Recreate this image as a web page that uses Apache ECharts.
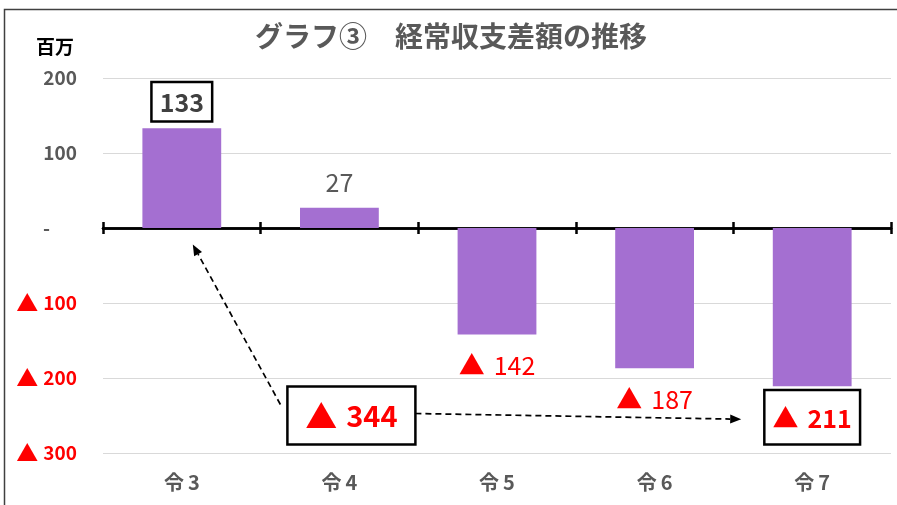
<!DOCTYPE html>
<html><head><meta charset="utf-8">
<script src="https://cdn.jsdelivr.net/npm/echarts@6/dist/echarts.min.js"></script>
<style>html,body{margin:0;padding:0;background:#fff}#c{width:897px;height:505px}</style>
</head><body><div id="c"></div>
<script>
const categories = ['令3', '令4', '令5', '令6', '令7'];
const values = [133, 27, -142, -187, -211];
const yMin = -300, yMax = 200, yStep = 100;
const unitLabel = '百万';
const titleText = 'グラフ③　経常収支差額の推移';
const changeValue = values[0] - values[values.length - 1]; // 344

const FF = "'Noto Sans CJK JP', sans-serif";
const GRAY = '#595959', RED = '#ff0000';
const chart = echarts.init(document.getElementById('c'));

function yFmt(v) {
  if (v === 0) return '{z|-}';
  if (v < 0) return '{nt|▲}{n|' + Math.abs(v) + '}';
  return '{p|' + v + '}';
}
function labelFor(i, v) {
  const boxed = (i === 0 || i === values.length - 1);
  const neg = v < 0;
  const txt = neg ? '{t|▲}{v|' + Math.abs(v) + '}' : '{v|' + v + '}';
  const col = neg ? RED : (boxed ? '#404040' : GRAY);
  const base = {
    show: true, formatter: txt, position: neg ? 'bottom' : 'top',
    rich: {
      t: { color: col, fontSize: 26, fontFamily: FF, padding: [0, 9, 0, 0] },
      v: { color: col, fontSize: 25, fontWeight: boxed ? 'bold' : 'normal', fontFamily: FF }
    }
  };
  if (boxed) {
    Object.assign(base, { distance: neg ? 5 : 8, borderColor: '#000', borderWidth: 2.5, backgroundColor: '#fff',
      padding: neg ? [14, 7, 12, 7] : [7, 7, 5, 7] });
  } else {
    base.distance = neg ? 18 : 13;
  }
  return base;
}

const tickAxis = (pos) => ({
  type: 'category', data: categories, position: pos,
  axisLine: { onZero: true, onZeroAxisIndex: 0, lineStyle: { color: '#000', width: 2.5 } },
  axisTick: { show: true, length: 6, lineStyle: { color: '#000', width: 2.5 } },
  axisLabel: { show: false }
});

const option = {
  animation: false,
  backgroundColor: '#fff',
  title: { text: titleText, left: 446, textAlign: 'center', top: 17,
    textStyle: { fontFamily: FF, fontSize: 28, fontWeight: 'bold', color: GRAY } },
  grid: { left: 103, right: 6, top: 78, bottom: 52, containLabel: false, outerBoundsMode: 'none' },
  xAxis: [
    tickAxis('bottom'),
    tickAxis('top'),
    { type: 'category', data: categories, position: 'bottom',
      axisLine: { show: false, onZero: false }, axisTick: { show: false },
      axisLabel: { margin: 19, color: GRAY,
        formatter: (s) => '{a|' + s.charAt(0) + '}{b|' + s.slice(1) + '}',
        rich: {
          a: { fontFamily: FF, fontSize: 20, fontWeight: 'bold', color: GRAY, padding: [0, 4, 0, 0] },
          b: { fontFamily: FF, fontSize: 20, fontWeight: 'bold', color: GRAY }
        } } }
  ],
  yAxis: { type: 'value', min: yMin, max: yMax, interval: yStep,
    axisLine: { show: false }, axisTick: { show: false },
    splitLine: { lineStyle: { color: '#d9d9d9', width: 1 } },
    axisLabel: { margin: 26, formatter: yFmt,
      rich: {
        p: { color: GRAY, fontWeight: 'bold', fontSize: 19, fontFamily: FF },
        n: { color: RED, fontWeight: 'bold', fontSize: 19, fontFamily: FF },
        nt: { color: RED, fontSize: 22, fontFamily: FF, padding: [0, 5, 0, 0] },
        z: { color: GRAY, fontWeight: 'bold', fontSize: 19, fontFamily: FF, width: 34, align: 'left' }
      } } },
  series: [{
    type: 'bar', xAxisIndex: 0, barWidth: '50%',
    itemStyle: { color: '#a46fd1' },
    data: values.map((v, i) => ({ value: v, label: labelFor(i, v) }))
  }]
};
chart.setOption(option);

const p = (i, v) => chart.convertToPixel({ xAxisIndex: 0, yAxisIndex: 0 }, [i, v]);
function arrow(a, b) {
  const dx = b[0] - a[0], dy = b[1] - a[1], L = Math.hypot(dx, dy);
  const ux = dx / L, uy = dy / L, hl = 11, hw = 4.5;
  const bx = b[0] - ux * hl, by = b[1] - uy * hl;
  return [
    { type: 'line', shape: { x1: a[0], y1: a[1], x2: bx, y2: by },
      style: { stroke: '#000', lineWidth: 1.7, lineDash: [6, 4] }, z: 10 },
    { type: 'polygon', shape: { points: [[b[0], b[1]], [bx - uy * hw, by + ux * hw], [bx + uy * hw, by - ux * hw]] },
      style: { fill: '#000' }, z: 10 }
  ];
}
const bc = p(1, -250); bc[0] += 12;
const boxW = 128, boxH = 58;
const t1 = p(0, -22); t1[0] += 11;
const t2 = p(values.length - 1, -255); t2[0] -= 71;
const graphics = [
  { type: 'rect', shape: { x: 4.5, y: 9.5, width: 1000, height: 1000 },
    style: { fill: 'none', stroke: '#404040', lineWidth: 1.5 }, silent: true },
  { type: 'text', x: 55, y: 47, style: { text: unitLabel, fontFamily: FF, fontSize: 19, fontWeight: 'bold', fill: '#000', align: 'center', verticalAlign: 'middle' } },
  ...arrow([bc[0] - 71, bc[1] - 11], t1),
  ...arrow([bc[0] + 64, bc[1] - 2], t2),
  { type: 'rect', shape: { x: bc[0] - boxW / 2, y: bc[1] - boxH / 2, width: boxW, height: boxH },
    style: { fill: '#fff', stroke: '#000', lineWidth: 2.5 }, z: 11 },
  { type: 'text', x: bc[0], y: bc[1], z: 12,
    style: { text: '{t|▲}{v|' + changeValue + '}', align: 'center', verticalAlign: 'middle',
      rich: { t: { fill: RED, fontSize: 32, fontFamily: FF, padding: [0, 9, 0, 0] }, v: { fill: RED, fontSize: 29, fontWeight: 'bold', fontFamily: FF } } } }
];
chart.setOption({ graphic: graphics });
</script></body></html>
